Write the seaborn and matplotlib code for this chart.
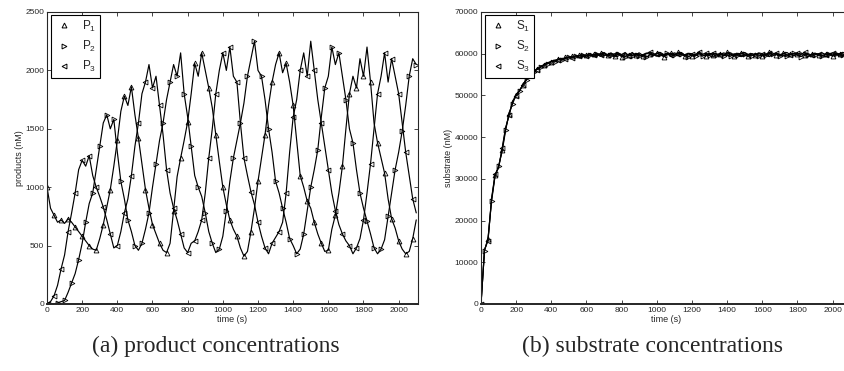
import matplotlib
matplotlib.use("Agg")
import matplotlib.pyplot as plt
import seaborn as sns
from matplotlib.lines import Line2D

# sample times (s)
times = list(range(0, 2101, 20))

# product concentrations (nM)
p1 = [1000, 820, 760, 700, 720, 690, 730, 700, 660, 620,
      580, 540, 500, 470, 460, 560, 680, 830, 980, 1180,
      1400, 1650, 1780, 1700, 1860, 1620, 1420, 1200, 980, 820,
      680, 600, 520, 460, 440, 520, 800, 1090, 1250, 1400,
      1560, 1800, 2060, 1950, 2150, 2000, 1850, 1680, 1450, 1220,
      1000, 850, 720, 640, 580, 480, 410, 450, 620, 820,
      1050, 1250, 1450, 1700, 1900, 2050, 2150, 1980, 2060, 1900,
      1700, 1400, 1100, 1000, 880, 820, 700, 600, 520, 450,
      460, 640, 760, 950, 1180, 1500, 1800, 1950, 1850, 2100,
      1950, 2200, 1900, 1550, 1380, 1250, 1120, 900, 730, 650,
      540, 470, 430, 450, 560, 720]
p2 = [0, 0, 0, 10, 20, 30, 100, 180, 260, 380,
      520, 700, 860, 950, 1150, 1350, 1550, 1620, 1500, 1580,
      1300, 1050, 900, 720, 620, 500, 460, 520, 640, 780,
      1000, 1200, 1400, 1550, 1750, 1900, 2050, 1950, 2150, 1800,
      1600, 1350, 1100, 1000, 920, 780, 620, 520, 440, 470,
      580, 800, 1050, 1250, 1400, 1550, 1720, 1950, 2100, 2250,
      2000, 1950, 1750, 1500, 1300, 1050, 950, 820, 700, 560,
      500, 430, 470, 600, 800, 1000, 1150, 1320, 1600, 1850,
      1950, 2200, 2050, 2150, 1950, 1750, 1500, 1380, 1150, 950,
      820, 710, 600, 480, 430, 470, 550, 750, 950, 1150,
      1300, 1480, 1700, 1950, 2100, 2050]
p3 = [0, 20, 70, 160, 300, 420, 620, 780, 950, 1150,
      1230, 1180, 1270, 1100, 1000, 920, 830, 720, 600, 480,
      500, 620, 780, 900, 1100, 1350, 1550, 1800, 1900, 2050,
      1850, 1950, 1700, 1450, 1150, 950, 820, 720, 600, 480,
      440, 520, 540, 620, 720, 950, 1250, 1500, 1800, 2000,
      2150, 2000, 2200, 1950, 1900, 1550, 1250, 1100, 960, 850,
      700, 580, 480, 430, 520, 570, 620, 700, 950, 1300,
      1600, 1750, 2000, 2150, 1950, 2250, 2000, 1750, 1550, 1350,
      1150, 950, 800, 680, 600, 540, 500, 430, 480, 560,
      720, 950, 1200, 1500, 1800, 1950, 2150, 1900, 2100, 1950,
      1800, 1550, 1300, 1100, 900, 780]

# substrate concentrations (nM)
s1 = [0, 12900, 15500, 25000, 30900, 32800, 37000, 42000, 45500, 48400,
      50100, 51200, 52600, 54000, 55100, 55800, 56300, 56900, 57300, 57800,
      58100, 58300, 58700, 58600, 59100, 59000, 59400, 59200, 59600, 59300,
      59700, 59500, 59900, 59400, 60100, 59600, 59800, 60200, 59500, 59900,
      59300, 60000, 59700, 60300, 59600, 59800, 59400, 60100, 59900, 59500,
      60200, 59700, 59300, 59900, 60100, 59600, 60300, 59800, 59500, 60000,
      59400, 59900, 60200, 59700, 59500, 60100, 59800, 59400, 60000, 59600,
      60300, 59900, 59500, 59800, 60200, 59600, 59400, 60000, 59700, 60100,
      59500, 59900, 60300, 59600, 59800, 59400, 60100, 59700, 60000, 59500,
      59900, 60200, 59600, 59300, 59900, 60100, 59700, 59500, 60000, 59800,
      59400, 60200, 59900, 59600, 60000, 59700]
s2 = [0, 12800, 15800, 24600, 30700, 33100, 36500, 41600, 45900, 48000,
      50300, 51000, 52900, 53700, 55300, 55600, 56500, 56700, 57500, 57600,
      58200, 58000, 58800, 58400, 59000, 59200, 59100, 59500, 59000, 59600,
      59200, 59800, 59300, 59900, 59400, 60000, 59500, 59700, 59200, 60000,
      59600, 59300, 59900, 59500, 60100, 59400, 59800, 59200, 59700, 60000,
      59400, 59900, 59600, 60100, 59300, 59800, 59500, 60000, 59700, 59300,
      59800, 59500, 60000, 59400, 59900, 59600, 59200, 59800, 60100, 59500,
      59700, 59400, 60000, 59600, 59300, 59900, 59700, 59500, 60100, 59400,
      59800, 59600, 59300, 59900, 60000, 59500, 59700, 59400, 59800, 60100,
      59600, 59300, 59900, 59700, 59400, 59800, 60000, 59500, 59300, 59900,
      59600, 59900, 59400, 59700, 59500, 59800]
s3 = [0, 13000, 15200, 25300, 31100, 32600, 37300, 42300, 45200, 48700,
      49900, 51400, 52400, 54200, 54900, 56000, 56200, 57100, 57200, 57900,
      58000, 58500, 58500, 58900, 58800, 59300, 59000, 59600, 59400, 59800,
      59500, 60100, 59600, 60000, 59800, 60300, 59700, 60000, 59900, 60200,
      59800, 60300, 59500, 60000, 59800, 60200, 59600, 60100, 60300, 59700,
      60000, 60300, 59800, 60100, 59700, 60200, 59900, 60300, 59600, 60100,
      60000, 59700, 60300, 59900, 60100, 59800, 60200, 59900, 59600, 60200,
      59900, 60200, 59700, 60100, 59900, 60300, 59800, 60000, 59700, 60200,
      60000, 59700, 60100, 59900, 60200, 59800, 60000, 60300, 59700, 60000,
      60100, 59800, 60300, 60000, 59700, 60100, 59900, 60200, 59800, 60000,
      60200, 59800, 60000, 60300, 59900, 60100]

markers = ["^", ">", "<"]

sns.set_style("ticks")
plt.rcParams["font.family"] = ["Liberation Sans", "DejaVu Sans"]
plt.rcParams["mathtext.fontset"] = "custom"
plt.rcParams["mathtext.rm"] = "Liberation Sans"

fig = plt.figure(figsize=(8.44, 3.71), dpi=100)
ax1 = fig.add_axes([47 / 844, 67 / 371, 371 / 844, 292 / 371])
ax2 = fig.add_axes([481 / 844, 67 / 371, 371 / 844, 292 / 371])


def draw(ax, series_list, labels, ylim, yticks, ylabel):
    for vals, m, off in zip(series_list, markers, [0, 1, 0]):
        sns.lineplot(x=times, y=vals, ax=ax, color="black", linewidth=0.85,
                     marker=m, markevery=(off, 2), markersize=3.5,
                     markerfacecolor="none", markeredgecolor="black",
                     markeredgewidth=0.6, legend=False)
    ax.set_xlim(0, 2110)
    ax.set_ylim(*ylim)
    ax.set_xticks(range(0, 2001, 200))
    ax.set_yticks(yticks)
    ax.tick_params(direction="in", top=True, right=True, labelsize=6,
                   length=3, width=0.6, pad=2)
    for side in ["top", "right", "left"]:
        ax.spines[side].set_linewidth(0.8)
    ax.spines["bottom"].set_linewidth(1.4)
    ax.set_xlabel("time (s)", fontsize=6.5, labelpad=1)
    ax.set_ylabel(ylabel, fontsize=6.5, labelpad=1)
    handles = [Line2D([], [], ls="none", marker=m, markersize=3.5,
                      markerfacecolor="none", markeredgecolor="black",
                      markeredgewidth=0.7) for m in markers]
    leg = ax.legend(handles, labels, loc="upper left",
                    bbox_to_anchor=(0.011, 0.99), borderaxespad=0,
                    fontsize=8.5, labelspacing=0.45, handlelength=1.6,
                    handletextpad=0.7, borderpad=0.3, fancybox=False,
                    framealpha=1, edgecolor="black")
    leg.get_frame().set_linewidth(0.8)


draw(ax1, [p1, p2, p3], ["P$_\\mathrm{1}$", "P$_\\mathrm{2}$", "P$_\\mathrm{3}$"],
     (0, 2500), range(0, 2501, 500), "products (nM)")
draw(ax2, [s1, s2, s3], ["S$_\\mathrm{1}$", "S$_\\mathrm{2}$", "S$_\\mathrm{3}$"],
     (0, 70000), range(0, 70001, 10000), "substrate (nM)")

fig.text(216 / 844, 1 - 346 / 371, "(a) product concentrations",
         family="Liberation Serif", fontsize=17, ha="center", va="center")
fig.text(652 / 844, 1 - 346 / 371, "(b) substrate concentrations",
         family="Liberation Serif", fontsize=17, ha="center", va="center")

fig.savefig("out.png", dpi=100)
